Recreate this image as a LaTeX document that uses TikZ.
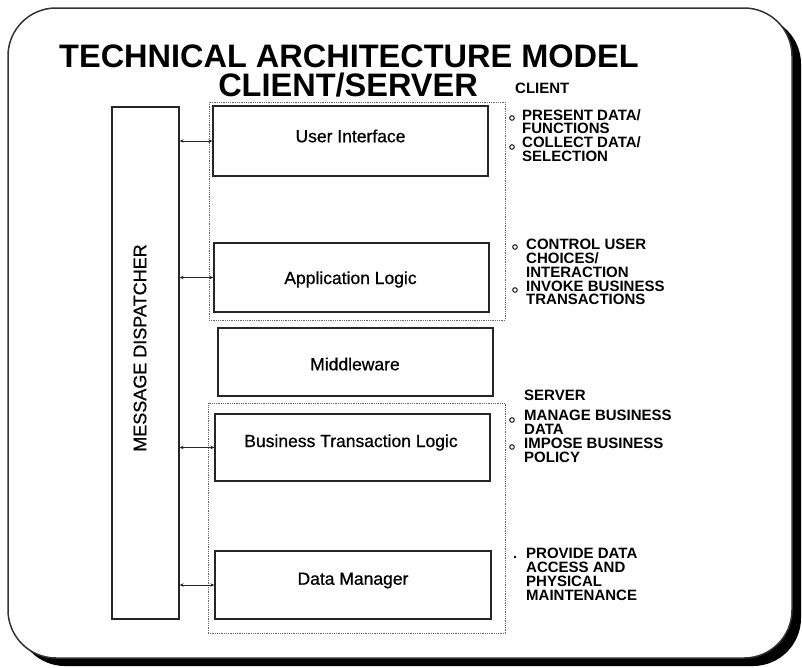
\documentclass[tikz,border=0pt]{standalone}
\usepackage{fontspec}
\setmainfont{Liberation Sans}
\newfontfamily\heavyfont[FakeBold=0.7]{Liberation Sans}
\usetikzlibrary{arrows.meta}

\tikzset{
  layerbox/.style={draw=black!85, line width=1.3pt, fill=white, inner sep=0pt},
  groupbox/.style={draw=black!60, densely dotted, line width=0.8pt, inner sep=0pt},
  boxlabel/.style={inner sep=0pt, font=\heavyfont\fontsize{17.5}{20}\selectfont},
  notes/.style={inner sep=0pt, anchor=north west, align=left,
    font=\bfseries\fontsize{15}{13.8}\selectfont},
  headline/.style={inner sep=0pt, anchor=base, font=\bfseries\fontsize{32.5}{30}\selectfont},
  link/.style={{Stealth[length=4pt,width=3.5pt]}-{Stealth[length=4pt,width=3.5pt]}, line width=1pt, black!85},
  bullet/.style={draw=black, line width=0.9pt, fill=white}
}

\begin{document}
\begin{tikzpicture}[x=1pt,y=-1pt]
  \useasboundingbox (0,0) rectangle (802,667);

  % frame with drop shadow
  \fill[black, rounded corners=48pt] (17,16) rectangle (801,666);
  \draw[black!80, line width=1.5pt, fill=white, rounded corners=48pt] (8,8) rectangle (792,658);

  % title
  \node[headline] (title1) at (349,67) {TECHNICAL ARCHITECTURE MODEL};
  \node[headline] (title2) at (348,96.5) {CLIENT/SERVER};

  % client and server groupings
  \node[groupbox, minimum width=296pt, minimum height=218pt] (client) at (357,211) {};
  \node[groupbox, minimum width=297pt, minimum height=230pt] (server) at (356.5,518) {};

  % message dispatcher
  \node[layerbox, minimum width=67pt, minimum height=512pt] (md) at (145.5,363) {};
  \node[inner sep=0pt, rotate=90, font=\heavyfont\fontsize{18}{20}\selectfont] (mdt) at (140,348) {MESSAGE DISPATCHER};

  % layers
  \node[layerbox, minimum width=275pt, minimum height=70pt] (ui) at (350.5,141) {};
  \node[layerbox, minimum width=275pt, minimum height=69pt] (al) at (351.5,277.5) {};
  \node[layerbox, minimum width=275pt, minimum height=68pt] (mw) at (355.5,362) {};
  \node[layerbox, minimum width=275pt, minimum height=67pt] (btl) at (352.5,447.5) {};
  \node[layerbox, minimum width=276pt, minimum height=68pt] (dm) at (353,585) {};

  \node[boxlabel] (uit) at (350.5,136) {User Interface};
  \node[boxlabel] (alt) at (350.5,279.5) {Application Logic};
  \node[boxlabel] (mwt) at (355,364) {Middleware};
  \node[boxlabel] (btlt) at (351,442.5) {Business Transaction Logic};
  \node[boxlabel] (dmt) at (353,580.5) {Data Manager};

  % connectors to the dispatcher
  \draw[link] (ui.west) -- (ui.west -| md.east);
  \draw[link] (al.west) -- (al.west -| md.east);
  \draw[link] (btl.west) -- (btl.west -| md.east);
  \draw[link] (dm.west) -- (dm.west -| md.east);

  % client responsibilities
  \node[notes] (clienthead) at (515,83) {CLIENT};
  \node[notes] (uinotes) at (522,109) {PRESENT DATA/\\FUNCTIONS\\COLLECT DATA/\\SELECTION};
  \draw[bullet] (512,118) circle (2.3pt);
  \draw[bullet] (512,147) circle (2.3pt);

  \node[notes] (alnotes) at (526,239) {CONTROL USER\\CHOICES/\\INTERACTION\\INVOKE BUSINESS\\TRANSACTIONS};
  \draw[bullet] (515,247) circle (2.3pt);
  \draw[bullet] (515,290) circle (2.3pt);

  % server responsibilities
  \node[notes] (serverhead) at (524,390) {SERVER};
  \node[notes] (btlnotes) at (524,410) {MANAGE BUSINESS\\DATA\\IMPOSE BUSINESS\\POLICY};
  \draw[bullet] (512,420) circle (2.3pt);
  \draw[bullet] (512,447) circle (2.3pt);

  \node[notes] (dmnotes) at (526,548) {PROVIDE DATA\\ACCESS AND\\PHYSICAL\\MAINTENANCE};
  \fill[black] (515,557) circle (1.3pt);
\end{tikzpicture}
\end{document}
